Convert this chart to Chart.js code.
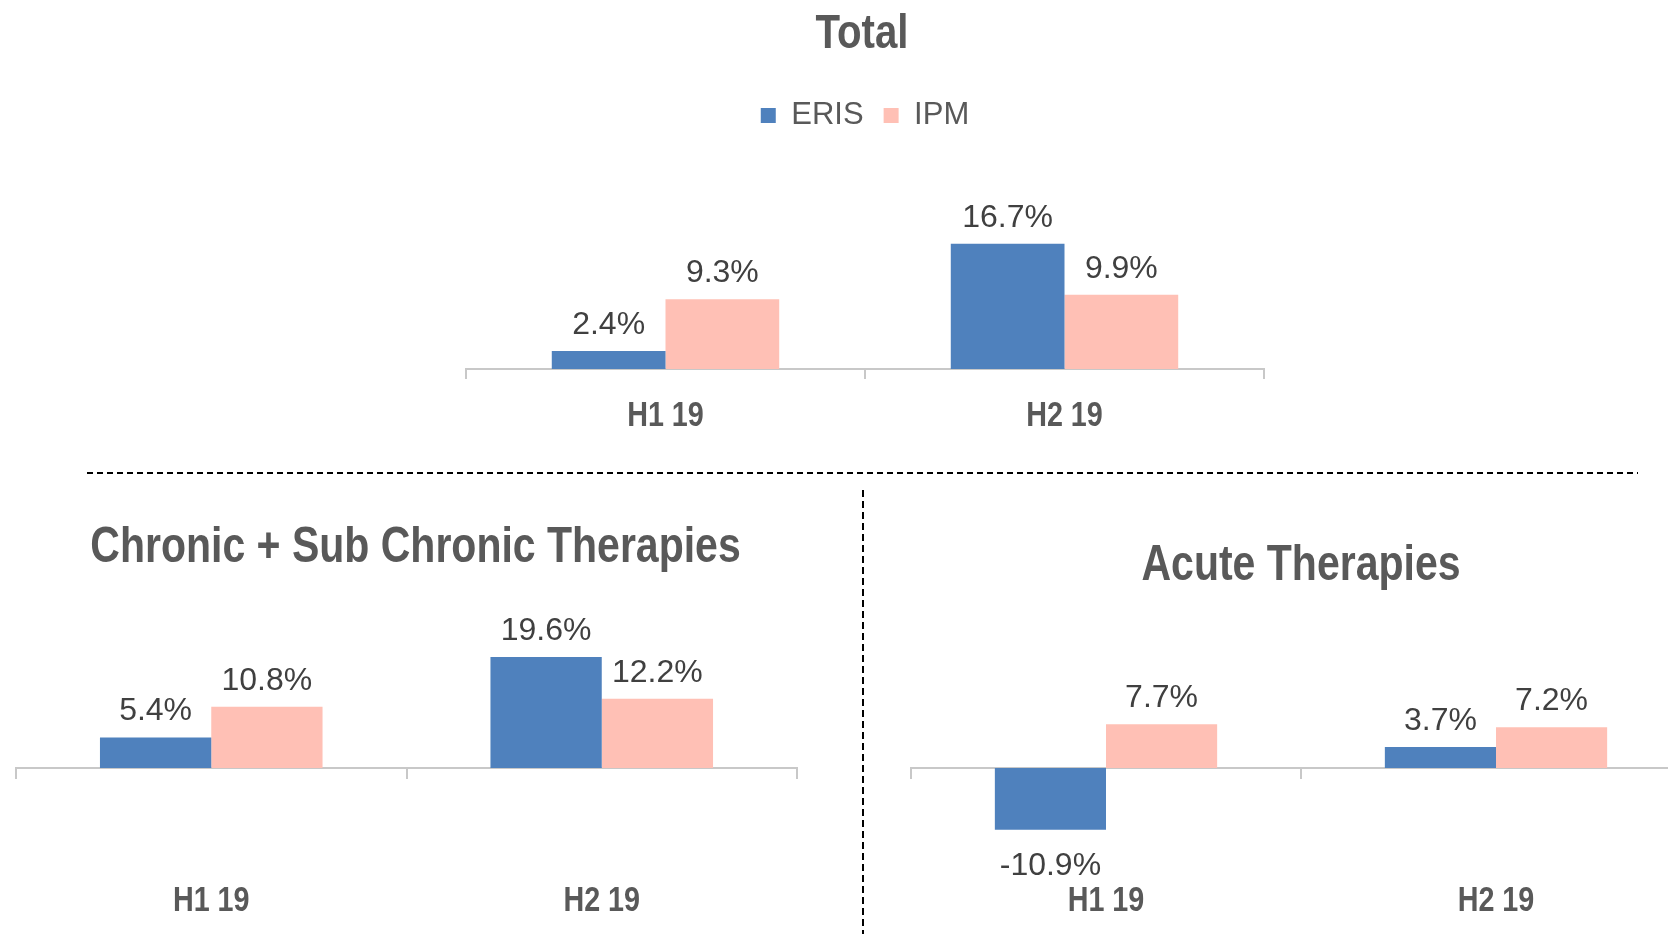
<!DOCTYPE html>
<html>
<head>
<meta charset="utf-8">
<title>ERIS vs IPM growth</title>
<script src="https://cdn.jsdelivr.net/npm/chart.js@4/dist/chart.umd.min.js"></script>
<style>
  html, body {
    margin: 0;
    padding: 0;
    background: #ffffff;
  }
  body {
    position: relative;
    width: 1668px;
    height: 934px;
    overflow: hidden;
  }
  canvas {
    position: absolute;
  }
  .dash-h {
    position: absolute;
    left: 87px;
    top: 472px;
    width: 1551px;
    height: 2px;
    background: repeating-linear-gradient(to right, #000 0 6px, transparent 6px 10px);
  }
  .dash-v {
    position: absolute;
    left: 862px;
    top: 490px;
    width: 2px;
    height: 444px;
    background: repeating-linear-gradient(to bottom, #000 0 7px, transparent 7px 11px);
  }
</style>
</head>
<body>
<canvas id="totalChart" width="1530" height="440" style="left:100px; top:0px;"></canvas>
<canvas id="chronicChart" width="813" height="454" style="left:0px; top:480px;"></canvas>
<canvas id="acuteChart" width="812" height="454" style="left:895px; top:480px;"></canvas>
<div class="dash-h"></div>
<div class="dash-v"></div>

<script>
'use strict';

//categories and series (growth in %)
var categories = ['H1 19', 'H2 19'];
var seriesNames = ['ERIS', 'IPM'];

var totalEris = [2.4, 16.7];
var totalIpm = [9.3, 9.9];

var chronicEris = [5.4, 19.6];
var chronicIpm = [10.8, 12.2];

var acuteEris = [-10.9, 3.7];
var acuteIpm = [7.7, 7.2];

//look and feel
var erisColor = '#4F81BD';
var ipmColor = '#FFC0B5';
var axisColor = '#C8C8C8';
var titleColor = '#595959';
var valueColor = '#404040';
var plainFont = '"Liberation Sans", Arial, sans-serif';
var narrowFactor = 0.82; //no Arial Narrow here, so bold text gets squeezed by hand

//plugin that writes the % value above (or below for negatives) every bar
var valueLabels = {
  id: 'valueLabels',
  afterDatasetsDraw: function (chart) {
    var ctx = chart.ctx;
    ctx.save();
    ctx.font = '32px ' + plainFont;
    ctx.fillStyle = valueColor;
    ctx.textAlign = 'center';
    ctx.textBaseline = 'alphabetic';
    chart.data.datasets.forEach(function (dataset, i) {
      chart.getDatasetMeta(i).data.forEach(function (bar, j) {
        var value = dataset.data[j];
        var y = value < 0 ? bar.y + 45 : bar.y - 17;
        ctx.fillText(value.toFixed(1) + '%', bar.x, y);
      });
    });
    ctx.restore();
  }
};

//draws bold text squeezed sideways, like the condensed font of the original
function drawNarrow(ctx, text, x, y, size) {
  ctx.save();
  ctx.font = 'bold ' + size + 'px ' + plainFont;
  ctx.fillStyle = titleColor;
  ctx.textAlign = 'center';
  ctx.textBaseline = 'middle';
  ctx.translate(x, y);
  ctx.scale(narrowFactor, 1);
  ctx.fillText(text, 0, 0);
  ctx.restore();
}

//plugin for the chart title and the category names under the x axis
var narrowText = {
  id: 'narrowText',
  afterDraw: function (chart, args, opts) {
    var ctx = chart.ctx;
    var area = chart.chartArea;
    var xScale = chart.scales.x;
    drawNarrow(ctx, opts.title, (area.left + area.right) / 2 + opts.titleShift, opts.titleY, opts.titleSize);
    chart.data.labels.forEach(function (label, i) {
      drawNarrow(ctx, label, xScale.getPixelForTick(i), area.bottom + opts.labelGap, 35);
    });
  }
};

function makeDatasets(eris, ipm) {
  return [
    {label: seriesNames[0], data: eris, backgroundColor: erisColor, borderWidth: 0},
    {label: seriesNames[1], data: ipm, backgroundColor: ipmColor, borderWidth: 0}
  ];
}

//Top chart : Total
new Chart(document.getElementById('totalChart'), {
  type: 'bar',
  data: {
    labels: categories,
    datasets: makeDatasets(totalEris, totalIpm)
  },
  options: {
    responsive: false,
    animation: false,
    devicePixelRatio: 1,
    layout: {padding: {left: 366, right: 366, top: 80, bottom: 61}},
    datasets: {bar: {categoryPercentage: 0.57, barPercentage: 1}},
    plugins: {
      narrowText: {title: 'Total', titleSize: 49, titleY: 34, titleShift: -3, labelGap: 47},
      legend: {
        display: true,
        labels: {
          boxWidth: 15,
          boxHeight: 15,
          padding: 20,
          color: titleColor,
          font: {family: plainFont, size: 31}
        }
      },
      tooltip: {enabled: false}
    },
    scales: {
      x: {
        grid: {offset: true, drawOnChartArea: false, color: axisColor, lineWidth: 2, tickLength: 10},
        border: {color: axisColor, width: 2},
        ticks: {display: false}
      },
      y: {display: false, min: 0, max: 30.4}
    }
  },
  plugins: [valueLabels, narrowText]
});

//the two lower charts share the same value range so their zero lines line up
function makeLowerChart(canvasId, title, eris, ipm, titleY, titleShift) {
  return new Chart(document.getElementById(canvasId), {
    type: 'bar',
    data: {
      labels: categories,
      datasets: makeDatasets(eris, ipm)
    },
    options: {
      responsive: false,
      animation: false,
      devicePixelRatio: 1,
      layout: {padding: {left: 16, right: 16, top: 118, bottom: 64}},
      datasets: {bar: {categoryPercentage: 0.57, barPercentage: 1}},
      plugins: {
        narrowText: {title: title, titleSize: 50, titleY: titleY, titleShift: titleShift, labelGap: 31},
        legend: {display: false},
        tooltip: {enabled: false}
      },
      scales: {
        x: {
          grid: {display: false, drawTicks: false},
          border: {display: false},
          ticks: {display: false}
        },
        //axis line with tick marks drawn at zero
        x2: {
          axis: 'x',
          type: 'category',
          position: {y: 0},
          offset: true,
          grid: {offset: true, drawOnChartArea: false, color: axisColor, lineWidth: 2, tickLength: 10},
          border: {color: axisColor, width: 2},
          ticks: {display: false}
        },
        y: {display: false, min: -18, max: 30}
      }
    },
    plugins: [valueLabels, narrowText]
  });
}

makeLowerChart('chronicChart', 'Chronic + Sub Chronic Therapies', chronicEris, chronicIpm, 68, 9);
makeLowerChart('acuteChart', 'Acute Therapies', acuteEris, acuteIpm, 86, 0);
</script>
</body>
</html>
